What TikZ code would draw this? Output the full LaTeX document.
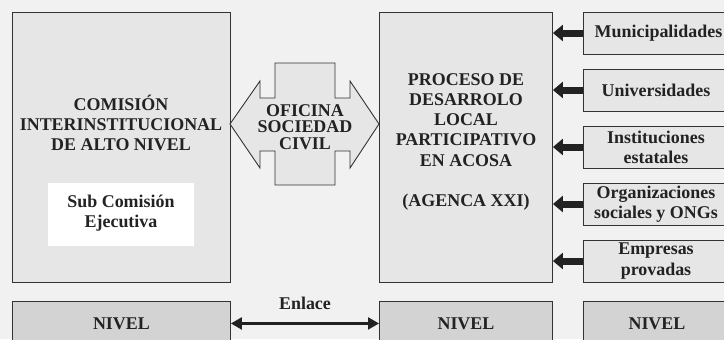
\documentclass[tikz,border=0pt]{standalone}
\usepackage{fontspec}
\setmainfont{Liberation Serif}
\usetikzlibrary{arrows.meta}
\definecolor{bg}{HTML}{F1F1F1}
\definecolor{boxfill}{HTML}{E6E6E7}
\definecolor{nivfill}{HTML}{D3D3D4}
\definecolor{edge}{HTML}{333333}
\definecolor{ink}{HTML}{222222}
\tikzset{
  box/.style={draw=edge, line width=0.9bp, fill=boxfill, inner sep=0pt, anchor=north west},
  nivbox/.style={draw=edge, line width=0.9bp, fill=nivfill, inner sep=0pt, anchor=north west,
     minimum width=#1, minimum height=44bp, font=\fontsize{18}{20}\selectfont\bfseries, text=ink},
  lbl/.style={align=center, inner sep=0pt, font=\fontsize{18}{20.3}\selectfont\bfseries, text=ink},
  srcbox/.style={draw=edge, line width=0.9bp, fill=boxfill, inner sep=0pt, anchor=west,
     minimum width=147bp, minimum height=42bp},
  fatarrow/.style={line width=7bp, draw=ink, -{Triangle[length=10bp,width=16bp]}},
  linkarrow/.style={line width=2.2bp, draw=ink, {Triangle[length=11bp,width=12bp]}-{Triangle[length=11bp,width=12bp]}},
}
\begin{document}
\begin{tikzpicture}[x=1bp,y=-1bp]
\clip (0,0) rectangle (724,339);
\fill[bg] (0,0) rectangle (724,339);
% left big box
\node[box, minimum width=218bp, minimum height=270bp] (comision) at (12,12) {};
\node[lbl] (comtxt) at (121,123) {COMISIÓN\\INTERINSTITUCIONAL\\DE ALTO NIVEL};
\node[fill=white, inner sep=0pt, anchor=north west, minimum width=146bp, minimum height=63bp] (sub) at (48,183) {};
\node[lbl] (subtxt) at (121,213) {Sub Comisión\\Ejecutiva};
% right big box
\node[box, minimum width=173bp, minimum height=270bp] (proceso) at (379,12) {};
\node[lbl] (proctxt) at (466,142) {PROCESO DE\\DESARROLO\\LOCAL\\PARTICIPATIVO\\EN ACOSA\\[20.3bp](AGENCA XXI)};
% cross / double arrow shape
\draw[draw=edge, line width=0.9bp, fill=boxfill]
  (230,124) -- (260,81) -- (260,98) -- (275,98) -- (275,63) -- (335,63) -- (335,98)
  -- (350,98) -- (350,81) -- (379,124) -- (350,168) -- (350,151) -- (335,151)
  -- (335,185) -- (275,185) -- (275,151) -- (260,151) -- (260,168) -- cycle;
\node[lbl, font=\fontsize{18}{16.5}\selectfont\bfseries] (oficina) at (305,127) {OFICINA\\SOCIEDAD\\CIVIL};
% source boxes
\node[srcbox] (mun) at (583,33) {};
\node[lbl, anchor=center] (muntxt) at (658.5,33) {Municipalidades};
\node[srcbox] (uni) at (583,90) {};
\node[lbl] (unitxt) at (656,90) {Universidades};
\node[srcbox] (ins) at (583,147) {};
\node[lbl] (instxt) at (656,147) {Instituciones\\estatales};
\node[srcbox] (org) at (583,204) {};
\node[lbl] (orgtxt) at (656,204) {Organizaciones\\sociales y ONGs};
\node[srcbox] (emp) at (583,261) {};
\node[lbl] (emptxt) at (656,261) {Empresas\\provadas};
\foreach \s in {mun,uni,ins,org,emp}
  \draw[fatarrow] (\s.west) -- (proceso.east |- \s.west);
% bottom level boxes
\node[nivbox=218bp] (nivA) at (12,301) {NIVEL};
\node[nivbox=173bp] (nivB) at (379,301) {NIVEL};
\node[nivbox=147bp] (nivC) at (583,301) {NIVEL};
\draw[linkarrow] (nivA.east) -- (nivB.west);
\node[lbl] (enlace) at (305,303) {Enlace};
\end{tikzpicture}
\end{document}
